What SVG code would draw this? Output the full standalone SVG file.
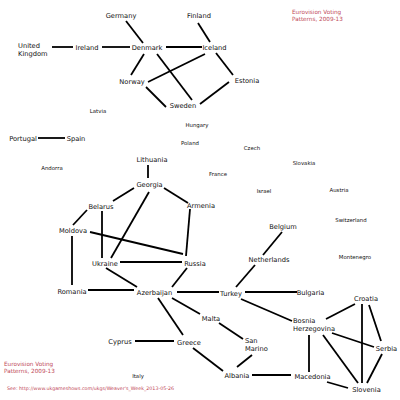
<svg xmlns="http://www.w3.org/2000/svg" width="400" height="400" viewBox="0 0 400 400">
<style>
.n{font-family:"DejaVu Sans",sans-serif;font-size:6.7px;fill:#111;text-anchor:middle}
.l{text-anchor:start}
.s{font-family:"DejaVu Sans",sans-serif;font-size:5.4px;fill:#111;text-anchor:middle}
.t{font-family:"DejaVu Sans",sans-serif;font-size:5.7px;fill:#c04858}
.u{font-family:"DejaVu Sans",sans-serif;font-size:4.8px;fill:#c04858}
#edges line{stroke:#000;stroke-width:1.8;stroke-linecap:butt}
</style>
<rect width="400" height="400" fill="#fff"/>
<g id="edges">
<line x1="52" y1="47" x2="73" y2="47"/>
<line x1="102" y1="47" x2="130" y2="47"/>
<line x1="126" y1="21" x2="143" y2="43"/>
<line x1="198" y1="23" x2="210" y2="42"/>
<line x1="166" y1="47" x2="202" y2="47"/>
<line x1="144" y1="54" x2="131" y2="75"/>
<line x1="157" y1="54" x2="192" y2="100"/>
<line x1="148" y1="82" x2="205" y2="54"/>
<line x1="146" y1="87" x2="166" y2="107"/>
<line x1="216" y1="53" x2="233" y2="75"/>
<line x1="200" y1="104" x2="229" y2="82"/>
<line x1="38" y1="138" x2="65" y2="138"/>
<line x1="148" y1="165" x2="148" y2="178"/>
<line x1="134" y1="188" x2="113" y2="201"/>
<line x1="164" y1="188" x2="188" y2="203"/>
<line x1="149" y1="192" x2="111" y2="258"/>
<line x1="87" y1="210" x2="73" y2="225"/>
<line x1="102" y1="211" x2="102" y2="258"/>
<line x1="90" y1="232" x2="183" y2="254"/>
<line x1="72" y1="236" x2="72" y2="285"/>
<line x1="190" y1="209" x2="186" y2="256"/>
<line x1="120" y1="262" x2="182" y2="262"/>
<line x1="106" y1="268" x2="137" y2="287"/>
<line x1="187" y1="268" x2="172" y2="287"/>
<line x1="88" y1="290" x2="134" y2="290"/>
<line x1="177" y1="292" x2="219" y2="292"/>
<line x1="245" y1="292" x2="297" y2="292"/>
<line x1="282" y1="232" x2="263" y2="255"/>
<line x1="255" y1="265" x2="236" y2="287"/>
<line x1="241" y1="299" x2="292" y2="321"/>
<line x1="172" y1="298" x2="200" y2="314"/>
<line x1="158" y1="298" x2="183" y2="335"/>
<line x1="135" y1="341" x2="174" y2="341"/>
<line x1="219" y1="323" x2="243" y2="339"/>
<line x1="252" y1="355" x2="237" y2="367"/>
<line x1="193" y1="348" x2="223" y2="371"/>
<line x1="252" y1="375" x2="291" y2="375"/>
<line x1="326" y1="319" x2="355" y2="304"/>
<line x1="362" y1="304" x2="362" y2="383"/>
<line x1="369" y1="305" x2="381" y2="341"/>
<line x1="332" y1="333" x2="374" y2="347"/>
<line x1="323" y1="335" x2="358" y2="383"/>
<line x1="309" y1="335" x2="309" y2="372"/>
<line x1="382" y1="354" x2="367" y2="383"/>
<line x1="327" y1="382" x2="348" y2="388"/>
</g>
<g id="germany"><text class="n" x="121" y="17.5">Germany</text></g>
<g id="finland"><text class="n" x="199" y="17.5">Finland</text></g>
<g id="uk"><text class="n l" x="18" y="47.5">United</text><text class="n l" x="18" y="55.5">Kingdom</text></g>
<g id="ireland"><text class="n" x="87" y="49.5">Ireland</text></g>
<g id="denmark"><text class="n" x="147" y="49.5">Denmark</text></g>
<g id="iceland"><text class="n" x="214.5" y="49.5">Iceland</text></g>
<g id="norway"><text class="n" x="132" y="83.5">Norway</text></g>
<g id="sweden"><text class="n" x="183" y="107.5">Sweden</text></g>
<g id="estonia"><text class="n" x="247" y="82.5">Estonia</text></g>
<g id="latvia"><text class="s" x="98" y="113">Latvia</text></g>
<g id="hungary"><text class="s" x="197" y="127">Hungary</text></g>
<g id="portugal"><text class="n" x="23" y="140.5">Portugal</text></g>
<g id="spain"><text class="n" x="76" y="140.5">Spain</text></g>
<g id="poland"><text class="s" x="190" y="145">Poland</text></g>
<g id="czech"><text class="s" x="252" y="150">Czech</text></g>
<g id="lithuania"><text class="n" x="152" y="161.5">Lithuania</text></g>
<g id="slovakia"><text class="s" x="304" y="165">Slovakia</text></g>
<g id="andorra"><text class="s" x="52" y="170">Andorra</text></g>
<g id="france"><text class="s" x="218" y="176">France</text></g>
<g id="georgia"><text class="n" x="149.5" y="186.5">Georgia</text></g>
<g id="israel"><text class="s" x="264" y="193">Israel</text></g>
<g id="austria"><text class="s" x="339" y="192">Austria</text></g>
<g id="belarus"><text class="n" x="101" y="208.5">Belarus</text></g>
<g id="armenia"><text class="n" x="201" y="207.5">Armenia</text></g>
<g id="switzerland"><text class="s" x="351" y="222">Switzerland</text></g>
<g id="belgium"><text class="n" x="283" y="228.5">Belgium</text></g>
<g id="moldova"><text class="n" x="73" y="232.5">Moldova</text></g>
<g id="montenegro"><text class="s" x="355" y="259">Montenegro</text></g>
<g id="netherlands"><text class="n" x="269" y="261.5">Netherlands</text></g>
<g id="ukraine"><text class="n" x="105" y="265.5">Ukraine</text></g>
<g id="russia"><text class="n" x="195" y="265.5">Russia</text></g>
<g id="romania"><text class="n" x="72" y="293.5">Romania</text></g>
<g id="azerbaijan"><text class="n" x="154.5" y="294.5">Azerbaijan</text></g>
<g id="turkey"><text class="n" x="231" y="295.5">Turkey</text></g>
<g id="bulgaria"><text class="n" x="310.5" y="294.5">Bulgaria</text></g>
<g id="croatia"><text class="n" x="366" y="300.5">Croatia</text></g>
<g id="malta"><text class="n" x="211" y="320.5">Malta</text></g>
<g id="bosnia"><text class="n l" x="293" y="322.5">Bosnia</text><text class="n l" x="293" y="330.5">Herzegovina</text></g>
<g id="sanmarino"><text class="n l" x="245" y="342.5">San</text><text class="n l" x="245" y="350.5">Marino</text></g>
<g id="cyprus"><text class="n" x="120" y="343.5">Cyprus</text></g>
<g id="greece"><text class="n" x="189" y="344.5">Greece</text></g>
<g id="serbia"><text class="n" x="386.5" y="350.5">Serbia</text></g>
<g id="albania"><text class="n" x="237" y="377.5">Albania</text></g>
<g id="macedonia"><text class="n" x="312.5" y="378.5">Macedonia</text></g>
<g id="italy"><text class="s" x="138" y="378">Italy</text></g>
<g id="slovenia"><text class="n" x="366.5" y="391.5">Slovenia</text></g>
<g id="title-top"><text class="t" x="292" y="14">Eurovision Voting</text><text class="t" x="292" y="21">Patterns, 2009-13</text></g>
<g id="title-bottom"><text class="t" x="4" y="366">Eurovision Voting</text><text class="t" x="4" y="372.5">Patterns, 2009-13</text></g>
<g id="source"><text class="u" x="7" y="390" textLength="167" lengthAdjust="spacingAndGlyphs">See: http://www.ukgameshows.com/ukgs/Weaver's_Week_2013-05-26</text></g>
</svg>
